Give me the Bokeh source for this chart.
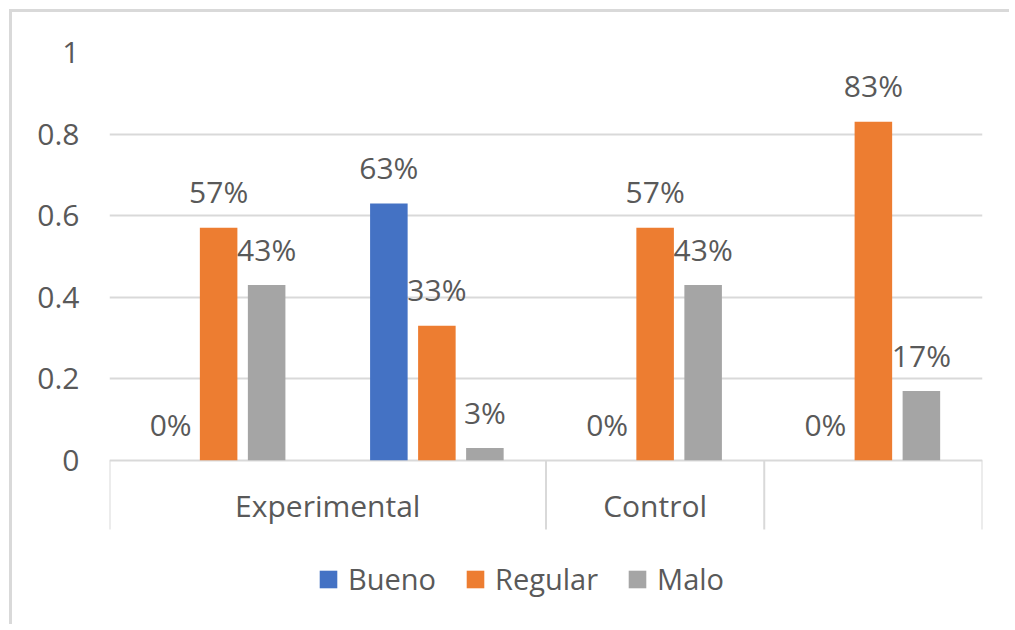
from bokeh.plotting import figure
from bokeh.models import ColumnDataSource, Legend, LegendItem, FixedTicker, Range1d
from bokeh.core.properties import value
from bokeh.embed import file_html
from bokeh.resources import INLINE

# ---- data ----
series = ["Bueno", "Regular", "Malo"]
colors = ["#4472C4", "#ED7D31", "#A5A5A5"]
bueno = [0.0, 0.63, 0.0, 0.0]
regular = [0.57, 0.33, 0.57, 0.83]
malo = [0.43, 0.03, 0.43, 0.17]
group_labels = ["Experimental", "Control", ""]
group_spans = [2, 1, 1]
y_ticks = [0, 0.2, 0.4, 0.6, 0.8, 1]
y_tick_labels = ["0", "0.2", "0.4", "0.6", "0.8", "1"]

FONT = "Open Sans"
TXT = "#595959"
GRID = "#D9D9D9"
FS = "30px"

n_groups = len(bueno)
y_bottom = -0.3855   # frame extends below the axis to host category labels + legend
y_div = -0.17        # bottom of the category dividers
offsets = [-0.22, 0.0, 0.22]
bar_w = 0.172

p = figure(width=1000, height=615, x_range=Range1d(0, n_groups), y_range=Range1d(y_bottom, 1.0),
           output_backend="svg", toolbar_location=None,
           min_border_left=97, min_border_right=30, min_border_top=40, min_border_bottom=10)
p.styles = {"border-top": "3px solid #D9D9D9", "border-left": "3px solid #D9D9D9",
            "margin-left": "9px", "margin-top": "9px"}
p.outline_line_color = None
p.background_fill_color = "white"
p.border_fill_color = "white"

p.xaxis.visible = False
p.xgrid.visible = False
p.yaxis.ticker = FixedTicker(ticks=y_ticks)
p.yaxis.major_label_overrides = {t: l for t, l in zip(y_ticks, y_tick_labels)}
p.yaxis.axis_line_color = None
p.yaxis.major_tick_line_color = None
p.yaxis.minor_tick_line_color = None
p.yaxis.major_tick_out = 0
p.yaxis.major_tick_in = 0
p.yaxis.major_label_standoff = 30
p.yaxis.major_label_text_font = FONT
p.yaxis.major_label_text_font_size = FS
p.yaxis.major_label_text_color = TXT
p.ygrid.ticker = FixedTicker(ticks=y_ticks)
p.ygrid.grid_line_color = GRID
p.ygrid.grid_line_width = 2

# dividers of the category axis
bounds = [0]
for s in group_spans:
    bounds.append(bounds[-1] + s)
p.segment(x0=bounds, y0=[0] * len(bounds), x1=bounds, y1=[y_div] * len(bounds),
          line_color=GRID, line_width=2)

# group labels
centers = [(bounds[i] + bounds[i + 1]) / 2 for i in range(len(group_spans))]
p.text(x=centers, y=[-0.11] * len(centers), text=group_labels, text_font=value(FONT),
       text_font_size=FS, text_color=TXT, text_align="center", text_baseline="middle")

items = []
for k, (name, vals, col) in enumerate(zip(series, [bueno, regular, malo], colors)):
    xs = [i + 0.5 + offsets[k] for i in range(n_groups)]
    src = ColumnDataSource(dict(x=xs, top=vals,
                                lab=[f"{round(v * 100)}%" for v in vals],
                                ly=[v + 0.088 for v in vals]))
    r = p.vbar(x="x", top="top", bottom=0, width=bar_w, source=src, fill_color=col, line_color=None)
    p.text(x="x", y="ly", text="lab", source=src, text_font=value(FONT), text_font_size=FS,
           text_color=TXT, text_align="center", text_baseline="middle")
    items.append(LegendItem(label=name, renderers=[r]))

legend = Legend(items=items, orientation="horizontal", location=(208, 19),
                glyph_width=22, glyph_height=22, label_standoff=9, spacing=28,
                label_text_font=FONT, label_text_font_size="29px", label_text_color=TXT,
                border_line_color=None, background_fill_alpha=0, padding=0, margin=0)
p.add_layout(legend, "center")

open("out.html", "w").write(file_html(p, INLINE))
